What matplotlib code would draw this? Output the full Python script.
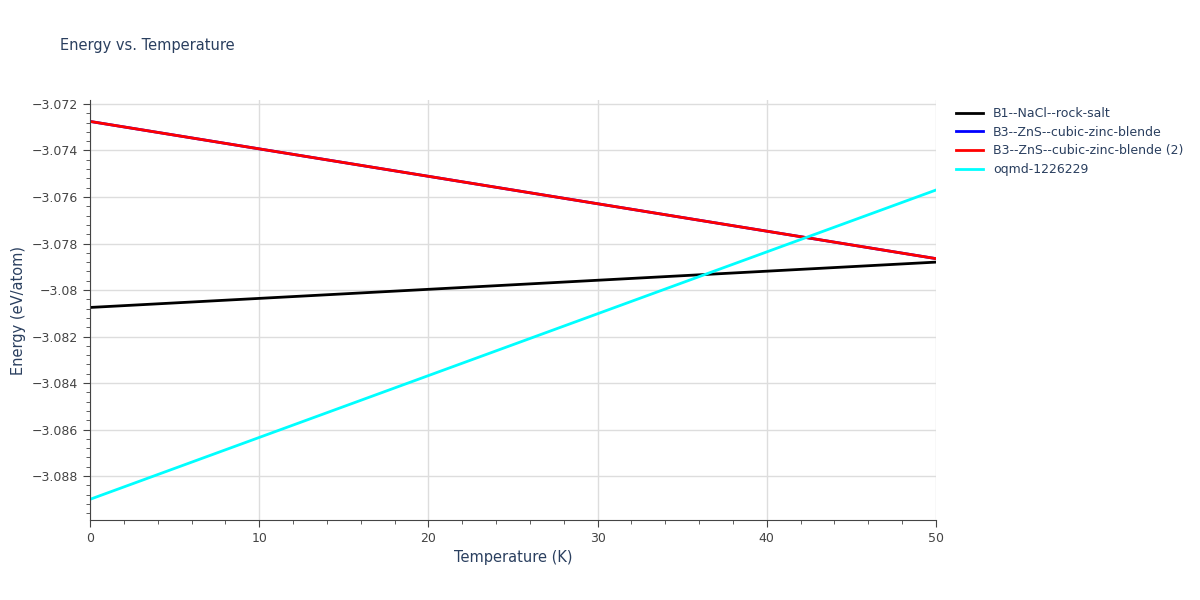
import matplotlib
matplotlib.use("Agg")
import matplotlib.pyplot as plt
from matplotlib.ticker import MultipleLocator, FuncFormatter

temps = [0, 50]
names = ["B1--NaCl--rock-salt", "B3--ZnS--cubic-zinc-blende",
         "B3--ZnS--cubic-zinc-blende (2)", "oqmd-1226229"]
colors = ["#000000", "#0000ff", "#ff0000", "#00ffff"]
energies = [[-3.08075, -3.0788],
            [-3.07275, -3.07865],
            [-3.07275, -3.07865],
            [-3.0890, -3.0757]]

fig = plt.figure(figsize=(12, 6), dpi=100)
ax = fig.add_axes([0.075, 0.1333, 0.705, 0.7])
for n, c, e in zip(names, colors, energies):
    ax.plot(temps, e, color=c, lw=2, label=n)
ax.set_xlim(0, 50)
ax.set_ylim(-3.08989, -3.07183)
ax.xaxis.set_major_locator(MultipleLocator(10))
ax.xaxis.set_minor_locator(MultipleLocator(2))
ax.yaxis.set_major_locator(MultipleLocator(0.002))
ax.yaxis.set_minor_locator(MultipleLocator(0.0004))
ax.yaxis.set_major_formatter(FuncFormatter(lambda v, p: ("%g" % round(v, 4)).replace("-", "\u2212")))
ax.grid(True, which="major", color="#dddddd", lw=1)
ax.set_axisbelow(True)
for s in ["top", "right"]:
    ax.spines[s].set_visible(False)
ax.spines["left"].set_color("#444444")
ax.spines["bottom"].set_color("#444444")
ax.tick_params(which="both", colors="#444444", labelcolor="#444444", labelsize=9)
ax.tick_params(which="major", length=5)
ax.tick_params(which="minor", length=3)
ax.set_xlabel("Temperature (K)", color="#2a3f5f", fontsize=10.5)
ax.set_ylabel("Energy (eV/atom)", color="#2a3f5f", fontsize=10.5)
fig.text(0.05, 0.917, "Energy vs. Temperature", color="#2a3f5f", fontsize=10.5)
leg = ax.legend(loc="upper left", bbox_to_anchor=(1.01, 1.01), frameon=False,
                fontsize=9, handlelength=2.2, labelspacing=0.45)
for t in leg.get_texts():
    t.set_color("#2a3f5f")
fig.savefig("out.png")
